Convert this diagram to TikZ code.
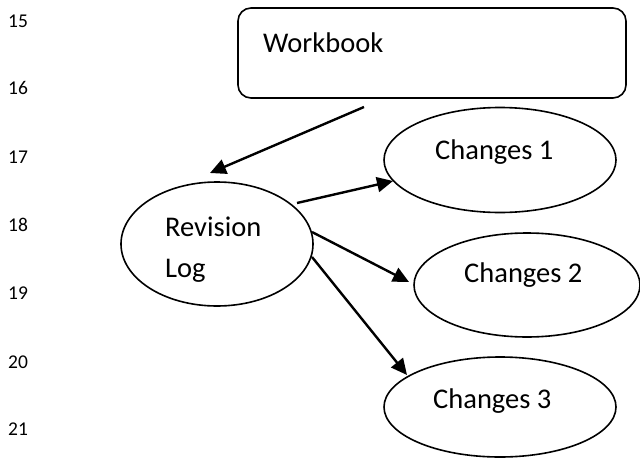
\documentclass[tikz,border=0pt]{standalone}
\usepackage{fontspec}
\setmainfont{Carlito}
\usetikzlibrary{arrows.meta,shapes.geometric}
\tikzset{
  big/.style={font=\fontsize{28.5}{34}\selectfont, inner sep=0pt, anchor=base west},
  lnum/.style={font=\fontsize{19.5}{23}\selectfont, inner sep=0pt, anchor=base west},
  oval/.style={draw, ellipse, line width=1.6pt, inner sep=0pt},
  arr/.style={line width=2.4pt, -{Triangle[length=16pt,width=15pt]}}
}
\begin{document}
\begin{tikzpicture}[x=1pt,y=-1pt]
\useasboundingbox[fill=white] (0,0) rectangle (640,458);
% line numbers
\node[lnum] (n15) at (8,27) {15};
\node[lnum] (n16) at (8,94) {16};
\node[lnum] (n17) at (8,163) {17};
\node[lnum] (n18) at (8,231) {18};
\node[lnum] (n19) at (8,299) {19};
\node[lnum] (n20) at (8,368) {20};
\node[lnum] (n21) at (8,435) {21};
% workbook box
\node[draw, line width=1.6pt, rounded corners=13pt, minimum width=388pt, minimum height=90pt, inner sep=0pt] (wb) at (432,53) {};
\node[big] (wbt) at (263,52) {Workbook};
% ellipses
\node[oval, minimum width=192pt, minimum height=124pt] (rev) at (217,244) {};
\node[big] (revt1) at (165,236) {Revision};
\node[big] (revt2) at (165,277) {Log};
\node[oval, minimum width=232pt, minimum height=105pt] (c1) at (500,160) {};
\node[big] (c1t) at (435,159) {Changes 1};
\node[oval, minimum width=226pt, minimum height=104pt] (c2) at (527,285) {};
\node[big] (c2t) at (464,282) {Changes 2};
\node[oval, minimum width=232pt, minimum height=100pt] (c3) at (500,407) {};
\node[big] (c3t) at (433,408) {Changes 3};
% arrow end points
\coordinate (wbout) at (364,107);
\coordinate (revin) at (210,173);
\coordinate (r1) at (297,203);
\coordinate (c1in) at (393,181);
\coordinate (r2) at (312,232);
\coordinate (c2in) at (409,282);
\coordinate (r3) at (312,257);
\coordinate (c3in) at (407,375);
\draw[arr] (wbout) -- (revin);
\draw[arr] (r1) -- (c1in);
\draw[arr] (r2) -- (c2in);
\draw[arr] (r3) -- (c3in);
\end{tikzpicture}
\end{document}
